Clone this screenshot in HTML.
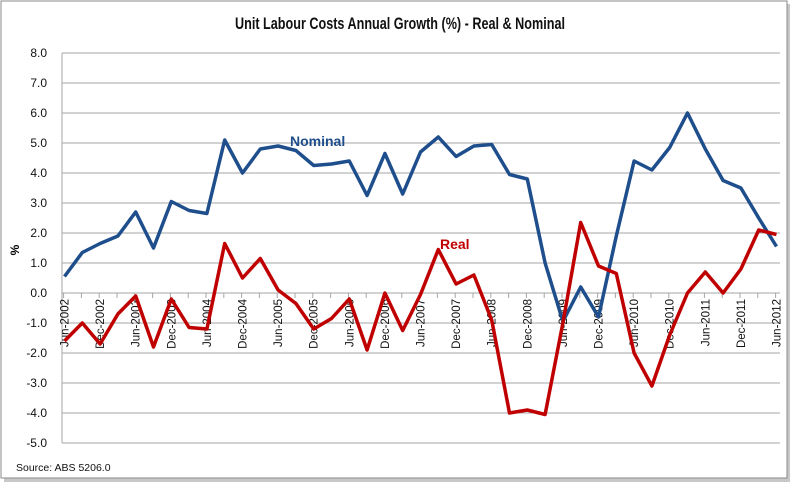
<!DOCTYPE html>
<html><head><meta charset="utf-8"><style>
html,body{margin:0;padding:0;background:#fff;}
body{width:800px;height:488px;overflow:hidden;font-family:"Liberation Sans",sans-serif;}
</style></head><body>
<svg id="s" width="800" height="488" xmlns="http://www.w3.org/2000/svg" font-family="Liberation Sans, sans-serif">
<rect x="4" y="4" width="786" height="478" fill="#c8c8c8"/>
<rect x="1" y="1" width="786" height="477" fill="#fff" stroke="#8a8a8a" stroke-width="1"/>
<text x="400" y="29" text-anchor="middle" font-size="17" font-weight="bold" fill="#111" textLength="330" lengthAdjust="spacingAndGlyphs">Unit Labour Costs Annual Growth (%) - Real &amp; Nominal</text>
<g id="grid"></g>
<text x="19" y="250" font-size="12" font-weight="bold" transform="rotate(-90 19 250)" text-anchor="middle">%</text>
<text x="16" y="471" font-size="10.5" fill="#111">Source: ABS 5206.0</text>
<g id="lines"></g>
<text x="290" y="146" font-size="14" font-weight="bold" fill="#1f4e8c">Nominal</text>
<text x="440" y="249" font-size="14" font-weight="bold" fill="#c00000">Real</text>
</svg>
<script>
var ns="http://www.w3.org/2000/svg";
function el(t,a,p,txt){var e=document.createElementNS(ns,t);for(var k in a)e.setAttribute(k,a[k]);if(txt)e.textContent=txt;p.appendChild(e);return e;}
var g=document.getElementById('grid'),L=document.getElementById('lines');
function Y(v){return 293-30*v;}
for(var v=8;v>=-5;v--){var y=Y(v);
 el('line',{x1:62,x2:780,y1:y,y2:y,stroke:'#a6a6a6','stroke-width':1},g);
 el('text',{x:47,y:y+4,'font-size':12,'text-anchor':'end',fill:'#111'},g,v.toFixed(1));}
el('line',{x1:62,x2:62,y1:Y(8),y2:Y(-5),stroke:'#a6a6a6','stroke-width':1},g);
function X(i){return 64.5+17.8*i;}
var yrs=['2002','2003','2004','2005','2006','2007','2008','2009','2010','2011','2012'];
for(var i=0;i<=40;i++){var tx=63.6+17.8*i; el('line',{x1:tx,x2:tx,y1:293,y2:298,stroke:'#a6a6a6'},g);}
for(var i=0;i<=40;i+=2){var x=X(i)+4;var lab=(i%4==0?'Jun-':'Dec-')+yrs[Math.floor(i/4)];
 el('text',{x:x,y:299,'font-size':11.5,'text-anchor':'end',fill:'#111',transform:'rotate(-90 '+x+' 299)'},g,lab);}
var nom=[0.55,1.35,1.65,1.9,2.7,1.5,3.05,2.75,2.65,5.1,4.0,4.8,4.9,4.75,4.25,4.3,4.4,3.25,4.65,3.3,4.7,5.2,4.55,4.9,4.95,3.95,3.8,1.0,-0.95,0.2,-0.8,1.9,4.4,4.1,4.85,6.0,4.8,3.75,3.5,2.5,1.55];
var real=[-1.6,-1.0,-1.7,-0.7,-0.1,-1.8,-0.2,-1.15,-1.2,1.65,0.5,1.15,0.1,-0.35,-1.2,-0.85,-0.2,-1.9,0.0,-1.25,-0.05,1.45,0.3,0.6,-0.9,-4.0,-3.9,-4.05,-1.0,2.35,0.9,0.65,-2.0,-3.1,-1.4,0.0,0.7,0.0,0.8,2.1,1.95];
function pts(a){return a.map(function(v,i){return X(i).toFixed(1)+','+Y(v).toFixed(1);}).join(' ');}
el('polyline',{points:pts(nom),fill:'none',stroke:'#1f4e8c','stroke-width':3.5,'stroke-linejoin':'round'},L);
el('polyline',{points:pts(real),fill:'none',stroke:'#c00000','stroke-width':3.5,'stroke-linejoin':'round'},L);
</script>
</body></html>
